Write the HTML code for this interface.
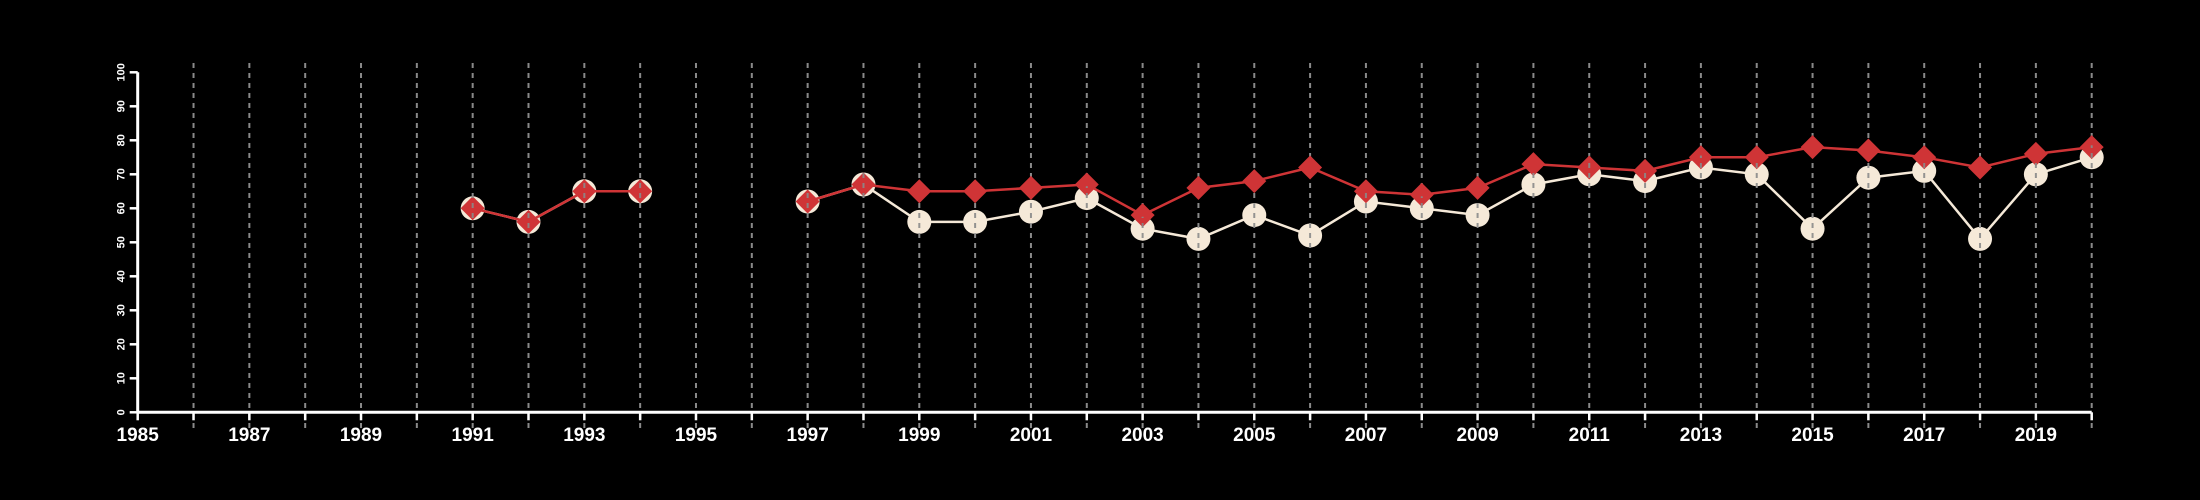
<!DOCTYPE html>
<html><head><meta charset="utf-8"><style>
html,body{margin:0;padding:0;background:#000;}
svg{display:block;font-family:"Liberation Sans",Arial,sans-serif;}
</style></head><body>
<svg id="chart" width="2200" height="500" viewBox="0 0 2200 500" xmlns="http://www.w3.org/2000/svg">
<rect width="2200" height="500" fill="#000"/>
<g id="grid"></g>
<g id="axes"></g>
<g id="series"></g>
<g id="grid2"></g>
</svg>
<script>
const years = [1991,1992,1993,1994,1997,1998,1999,2000,2001,2002,2003,2004,2005,2006,2007,2008,2009,2010,2011,2012,2013,2014,2015,2016,2017,2018,2019,2020];
const whiteValues = [60,56,65,65,62,67,56,56,59,63,54,51,58,52,62,60,58,67,70,68,72,70,54,69,71,51,70,75];
const redValues = [60,56,65,65,62,67,65,65,66,67,58,66,68,72,65,64,66,73,72,71,75,75,78,77,75,72,76,78];
const yTicks = [0,10,20,30,40,50,60,70,80,90,100];
const xLabels = [1985,1987,1989,1991,1993,1995,1997,1999,2001,2003,2005,2007,2009,2011,2013,2015,2017,2019];
const xMin = 1985, xMax = 2020;
const NS = "http://www.w3.org/2000/svg";
const X0 = 137.7, X1 = 2091.7, Y0 = 412.3, Y1 = 72.3;
const xs = v => X0 + (v - xMin) / (xMax - xMin) * (X1 - X0);
const ys = v => Y0 + v / 100 * (Y1 - Y0);
function mk(tag, attrs, parent){const e=document.createElementNS(NS,tag);for(const k in attrs)e.setAttribute(k,attrs[k]);parent.appendChild(e);return e;}
const grid=document.getElementById('grid'),grid2=document.getElementById('grid2'),axes=document.getElementById('axes'),series=document.getElementById('series');
for(let yr=xMin+1; yr<=xMax; yr++){
  for(const g of [grid,grid2]){
    const l=mk('line',{x1:xs(yr),x2:xs(yr),y1:63,y2:428,stroke:'#8a8a8a','stroke-width':2,'stroke-dasharray':'5,5'},g);
    
    
  }
}
// axes
let a=mk('line',{x1:X0,x2:X1,y1:Y0,y2:Y0,stroke:'#fff','stroke-width':3},axes);


a=mk('line',{x1:X0,x2:X0,y1:Y0,y2:Y1,stroke:'#fff','stroke-width':3},axes);


for(let yr=xMin; yr<=xMax; yr++){
  const t=mk('line',{x1:xs(yr),x2:xs(yr),y1:Y0,y2:Y0+8,stroke:'#fff','stroke-width':2.5},axes);
  
  
}
xLabels.forEach(v=>{
  const t=mk('text',{x:xs(v),y:441,fill:'#fff','font-size':19,'font-weight':'bold','text-anchor':'middle'},axes);
  t.textContent=v;
  
  
});
yTicks.forEach(v=>{
  const t=mk('line',{x1:X0-8,x2:X0,y1:ys(v),y2:ys(v),stroke:'#fff','stroke-width':2.5},axes);
  
  
  const tx=mk('text',{x:0,y:0,fill:'#fff','font-size':11,'font-weight':'bold','text-anchor':'middle',transform:`translate(${X0-13},${ys(v)}) rotate(-90)`},axes);
  tx.textContent=v;
  
  
});
function segs(vals){
  const out=[];let cur=[];
  years.forEach((y,i)=>{ if(i>0 && y-years[i-1]>1){out.push(cur);cur=[];} cur.push([xs(y),ys(vals[i])]); });
  out.push(cur);return out;
}
segs(whiteValues).forEach(s=>{
  const p=mk('polyline',{points:s.map(p=>p.join(',')).join(' '),fill:'none',stroke:'#f5e9d8','stroke-width':2.5},series);
  
  
});
years.forEach((y,i)=>{
  const c=mk('circle',{cx:xs(y),cy:ys(whiteValues[i]),r:12,fill:'#f5e9d8'},series);
  
  
});
segs(redValues).forEach(s=>{
  const p=mk('polyline',{points:s.map(p=>p.join(',')).join(' '),fill:'none',stroke:'#cf3436','stroke-width':2.5},series);
  
  
});
years.forEach((y,i)=>{
  const cx=xs(y),cy=ys(redValues[i]),r=12;
  const d=mk('polygon',{points:`${cx},${cy-r} ${cx+r},${cy} ${cx},${cy+r} ${cx-r},${cy}`,fill:'#cf3436'},series);
  
  
});
// overlay gridlines only visible on white circles (dashes drawn over circles)
grid2.setAttribute('opacity','0.9');
grid2.setAttribute('clip-path','url(#circClip)');
const defs=mk('defs',{},document.getElementById('chart'));
const cp=mk('clipPath',{id:'circClip'},defs);
years.forEach((y,i)=>{mk('circle',{cx:xs(y),cy:ys(whiteValues[i]),r:12},cp);});
</script>
</body></html>
